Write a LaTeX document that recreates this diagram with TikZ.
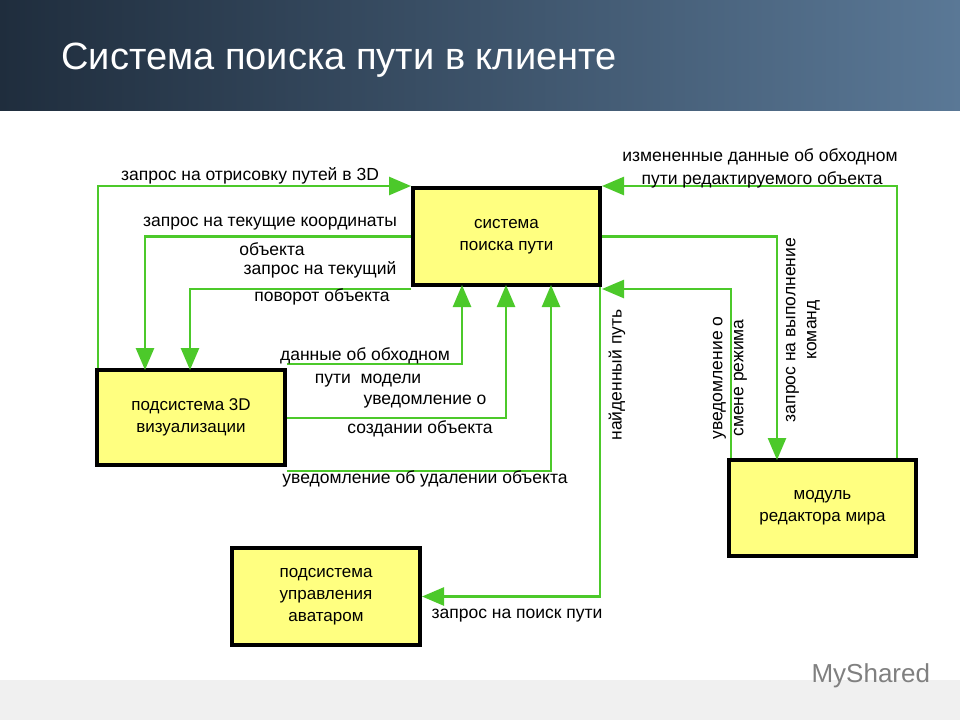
\documentclass[tikz,border=0pt]{standalone}
\usepackage{fontspec}
\setmainfont{Liberation Sans}
\usetikzlibrary{arrows.meta,shadings}
\definecolor{gr}{HTML}{4CC92A}
\definecolor{bx}{HTML}{FFFF80}
\definecolor{hl}{HTML}{1F2D3D}
\definecolor{hr}{HTML}{5A7896}
\tikzset{
 box/.style={draw=black,line width=4pt,fill=bx,minimum width=#1,align=center,font=\fontsize{17}{22}\selectfont},
 conn/.style={draw=gr,line width=2.6pt,-{Triangle[length=22pt,width=18pt]}},
 lab/.style={font=\fontsize{17.5}{21}\selectfont,align=center,inner sep=0pt},
}
\begin{document}
\begin{tikzpicture}[x=1pt,y=-1pt]
\useasboundingbox (0,0) rectangle (960,720);
\fill[white] (0,0) rectangle (960,720);
\shade[left color=hl, right color=hr] (0,0) rectangle (960,110);
\fill[gray!12] (0,680) rectangle (960,720);
\node[anchor=west,text=white,font=\fontsize{38}{42}\selectfont] (title) at (58,60) {Система поиска пути в клиенте};
\node[anchor=west,text=gray,font=\fontsize{26}{30}\selectfont] (logo) at (808,676) {MyShared};

\node[box=187pt,minimum height=97pt] (S) at (506.5,236.5) {система\\поиска пути};
\node[box=188pt,minimum height=95pt] (V) at (191,417.5) {подсистема 3D\\визуализации};
\node[box=187pt,minimum height=96pt] (M) at (822.5,508) {модуль\\редактора мира};
\node[box=188pt,minimum height=97pt] (A) at (326,596.5) {подсистема\\управления\\аватаром};

% left side
\draw[conn] (V.north west) ++(3,0) |- (S.north west);
\draw[conn] (S.west) -| (145,370);
\draw[conn] ([yshift=-2]S.south west) -| (190,370);
\draw[conn] ([yshift=4]V.north east) -| (462,285);
\draw[conn] ([yshift=-0.5]V.east) -| (506,285);
\draw[conn] ([yshift=-4]V.south east) -| (551,285);
\draw[conn] ([xshift=-2]S.south east) |- (A.east);
% right side
\draw[conn] ([xshift=4]M.north west) |- ([yshift=-2]S.south east);
\draw[conn] (S.east) -| (777,460);
\draw[conn] ([xshift=-21]M.north east) |- (S.north east);

\node[lab] at (250,176) {запрос на отрисовку путей в 3D};
\node[lab] at (270,224) {запрос на текущие координаты};
\node[lab] at (272,249) {объекта};
\node[lab] at (320,270) {запрос на текущий};
\node[lab] at (322,297) {поворот объекта};
\node[lab] at (365,356) {данные об обходном};
\node[lab] at (368,381) {пути~~модели};
\node[lab] at (425,402) {уведомление о};
\node[lab] at (420,429) {создании объекта};
\node[lab] at (425,479) {уведомление об удалении объекта};
\node[lab] at (517,616) {запрос на поиск пути};
\node[lab,rotate=90] at (617,375) {найденный путь};
\node[lab,rotate=90] at (730,378) {уведомление о\\смене режима};
\node[lab,rotate=90] at (803,330) {запрос на выполнение\\команд};
\node[lab] at (760,157) {измененные данные об обходном};
\node[lab] at (762,180) {пути редактируемого объекта};
\end{tikzpicture}
\end{document}
